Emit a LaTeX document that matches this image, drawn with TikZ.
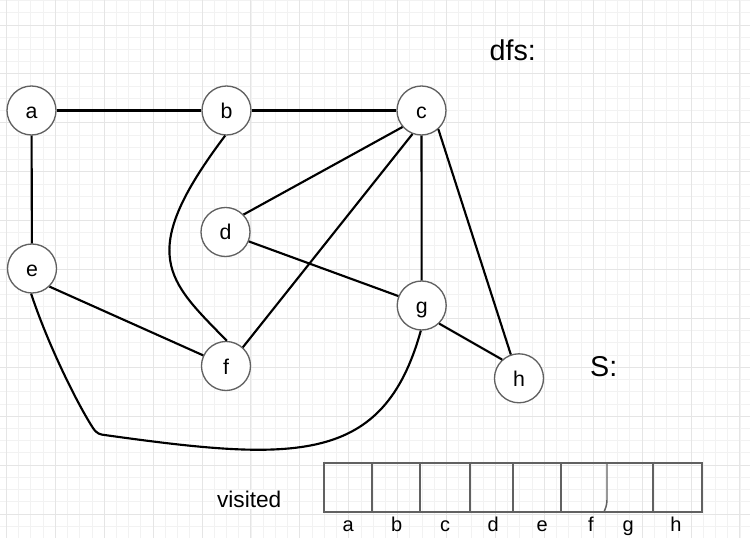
\documentclass[tikz,border=0pt]{standalone}
\usepackage{fontspec}
\setmainfont{Liberation Sans}
\begin{document}
\begin{tikzpicture}[x=0.75pt,y=-0.75pt,
  vertex/.style={circle,draw=black!62,line width=1pt,fill=white,minimum size=36.75pt,
    inner sep=0pt,text height=14pt,text depth=2pt,font=\fontsize{16}{19}\selectfont},
  edge/.style={line width=1.6pt,black},
  minorline/.style={draw=black!5,line width=0.6pt},
  majorline/.style={draw=black!10,line width=0.7pt},
  cell/.style={draw=black!62,line width=1.1pt},
  lbl/.style={anchor=base,inner sep=1pt,font=\fontsize{15}{18}\selectfont},
  big/.style={anchor=base,inner sep=0pt,font=\fontsize{21.5}{26}\selectfont}]

% paper and grid
\useasboundingbox (0,0) rectangle (750,538);
\fill[white] (0,0) rectangle (750,538);
\begin{scope}
  \clip (0,0) rectangle (750,538);
  \foreach \i in {0,...,62} \draw[minorline] ({-5.825+12.225*\i},0) -- ({-5.825+12.225*\i},538);
  \foreach \i in {0,...,44} \draw[minorline] (0,{0.55+12.225*\i}) -- (750,{0.55+12.225*\i});
  \foreach \i in {0,...,15} \draw[majorline] ({6.4+48.9*\i},0) -- ({6.4+48.9*\i},538);
  \foreach \i in {0,...,10} \draw[majorline] (0,{25+48.9*\i}) -- (750,{25+48.9*\i});
\end{scope}

% vertices
\node[vertex] (a) at (31.5,110.5) {a};
\node[vertex] (b) at (226.5,110.5) {b};
\node[vertex] (c) at (421.5,110.5) {c};
\node[vertex] (d) at (225.5,232) {d};
\node[vertex] (e) at (32,268.5) {e};
\node[vertex] (f) at (226,366) {f};
\node[vertex] (g) at (421.7,305.5) {g};
\node[vertex] (h) at (519,378.3) {h};

% edges
\draw[edge] (a) -- (b);
\draw[edge] (b) -- (c);
\draw[edge] (a) -- (e);
\draw[edge] (c.221) -- (d.44);
\draw[edge] (c.249) -- (f.48);
\draw[edge] (c) -- (g);
\draw[edge] (c.-48) -- (h.109);
\draw[edge] (d.-22) -- (g.158);
\draw[edge] (e.-46) -- (f.155);
\draw[edge] (g.-46) -- (h.132);
\draw[edge] (b.-93) .. controls (135.2,254.8) and (167.8,280.3) .. (f.88);
\draw[edge] (e.-92) .. controls (48,345) and (78,405) .. (93,428)
  .. controls (97,434) and (100,434.5) .. (106,435.2)
  .. controls (296,461.7) and (383.5,465) .. (g.-92);

% labels
\node[big] (dfs) at (512.7,60.7) {dfs:};
\node[big] (stack) at (603.7,376.7) {S:};
\node[lbl,fill=white,font=\fontsize{17}{20}\selectfont] (visited) at (249.2,507.7) {visited};

% visited array
\draw[cell] (324,463) rectangle (702,512);
\foreach \x in {372,420,470,513,561,653} \draw[cell] (\x,463) -- (\x,512);
\draw[cell] (607,463) -- (607,500) .. controls (607,506) and (605,509) .. (604,512);
\foreach \t/\x in {a/348.3,b/396.7,c/445,d/493.3,e/542.3,f/591,g/628.3,h/676}
  \node[lbl] (l\t) at (\x,531.7) {\t};
\end{tikzpicture}
\end{document}
